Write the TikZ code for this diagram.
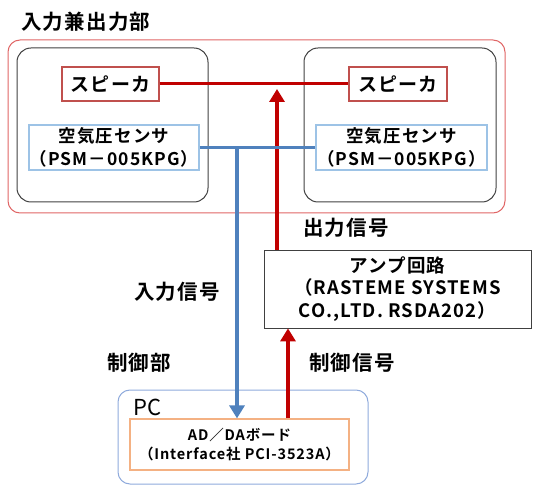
\documentclass[tikz,border=0pt]{standalone}
\usepackage{fontspec}
\setmainfont{Noto Sans CJK JP}
\usetikzlibrary{arrows.meta,calc}
\definecolor{cred}{HTML}{C00000}
\definecolor{cblue}{HTML}{4F81BD}
\definecolor{outerred}{HTML}{E06666}
\definecolor{spkred}{HTML}{C0504D}
\definecolor{senblue}{HTML}{9DC3E6}
\definecolor{pcblue}{HTML}{8FAADC}
\definecolor{adorange}{HTML}{F4B183}
\definecolor{darkgray}{HTML}{404040}
\newfontfamily\bfj[LetterSpace=6]{Noto Sans CJK JP Bold}
\newfontfamily\bfb[LetterSpace=6]{Noto Sans CJK JP Bold}
\begin{document}
\begin{tikzpicture}[x=1pt,y=-1pt,
  boxbase/.style={draw, rectangle, inner sep=0pt, align=center},
  outerbox/.style={boxbase, draw=outerred, line width=1pt, rounded corners=12pt},
  innerbox/.style={boxbase, draw=darkgray, line width=1pt, rounded corners=14pt},
  spkbox/.style={boxbase, draw=spkred, line width=1.2pt, font=\bfb\fontsize{19}{22}\selectfont},
  senbox/.style={boxbase, draw=senblue, line width=1.2pt, font=\bfb\fontsize{17.5}{23}\selectfont},
  ampbox/.style={boxbase, draw=darkgray, line width=0.8pt, font=\bfb\fontsize{18.5}{22.5}\selectfont},
  pcbox/.style={boxbase, draw=pcblue, line width=1pt, rounded corners=12pt},
  adbox/.style={boxbase, draw=adorange, line width=1.2pt, font=\bfb\fontsize{14.5}{19}\selectfont},
  lbl/.style={anchor=west, inner sep=0pt, font=\bfj\fontsize{20.5}{22}\selectfont},
  redline/.style={draw=cred, line width=3pt},
  redarrow/.style={draw=cred, line width=4pt, -{Triangle[length=13pt,width=15pt]}},
  blueline/.style={draw=cblue, line width=3pt},
  bluearrow/.style={draw=cblue, line width=4.5pt, -{Triangle[length=13pt,width=15pt]}}
]
\useasboundingbox (0,0) rectangle (533,486);

% containers
\node[outerbox, minimum width=497pt, minimum height=173pt] (outer) at (256.5,126.5) {};
\node[innerbox, minimum width=191pt, minimum height=154pt] (innerL) at (112.5,125) {};
\node[innerbox, minimum width=192pt, minimum height=154pt] (innerR) at (400,125) {};
\node[pcbox, minimum width=250pt, minimum height=94pt] (pc) at (243,437) {};

% boxes
\node[spkbox, minimum width=97pt, minimum height=34pt] (spkL) at (110.5,84) {スピーカ};
\node[spkbox, minimum width=98pt, minimum height=34pt] (spkR) at (398,84) {スピーカ};
\node[senbox, minimum width=170pt, minimum height=45pt] (senL) at (114,147.5) {空気圧センサ\\（PSM－005KPG）};
\node[senbox, minimum width=171pt, minimum height=45pt] (senR) at (401.5,147.5) {空気圧センサ\\（PSM－005KPG）};
\node[ampbox, minimum width=267pt, minimum height=78pt] (amp) at (397.5,289) {\raisebox{-3pt}{\parbox{260pt}{\centering アンプ回路\\（RASTEME SYSTEMS\\CO.,LTD. RSDA202）}}};
\node[adbox, minimum width=219pt, minimum height=51pt] (adda) at (239.5,444.5) {AD／DAボード\\（Interface社 PCI-3523A）};

% labels
\node[lbl] (title) at (21,22) {入力兼出力部};
\node[lbl] (outlbl) at (303,228) {出力信号};
\node[lbl] (inlbl) at (134,292) {入力信号};
\node[lbl] (ctrlpart) at (107,363) {制御部};
\node[lbl] (ctrlsig) at (309,363) {制御信号};
\node[anchor=west, inner sep=0pt, font=\fontsize{22}{24}\selectfont] (pclbl) at (133,407) {PC};

% connectors
\coordinate (jr) at (277,89);
\coordinate (jb) at (237,147);
\coordinate (cx) at (288,0);
\draw[redline] (spkL) -- (spkR);
\draw[redarrow] (amp.north -| jr) -- (jr);
\draw[blueline] (senL) -- (senR);
\draw[bluearrow] (jb) -- (jb |- adda.north);
\draw[redarrow] (cx |- adda.north) -- (cx |- amp.south);
\end{tikzpicture}
\end{document}
